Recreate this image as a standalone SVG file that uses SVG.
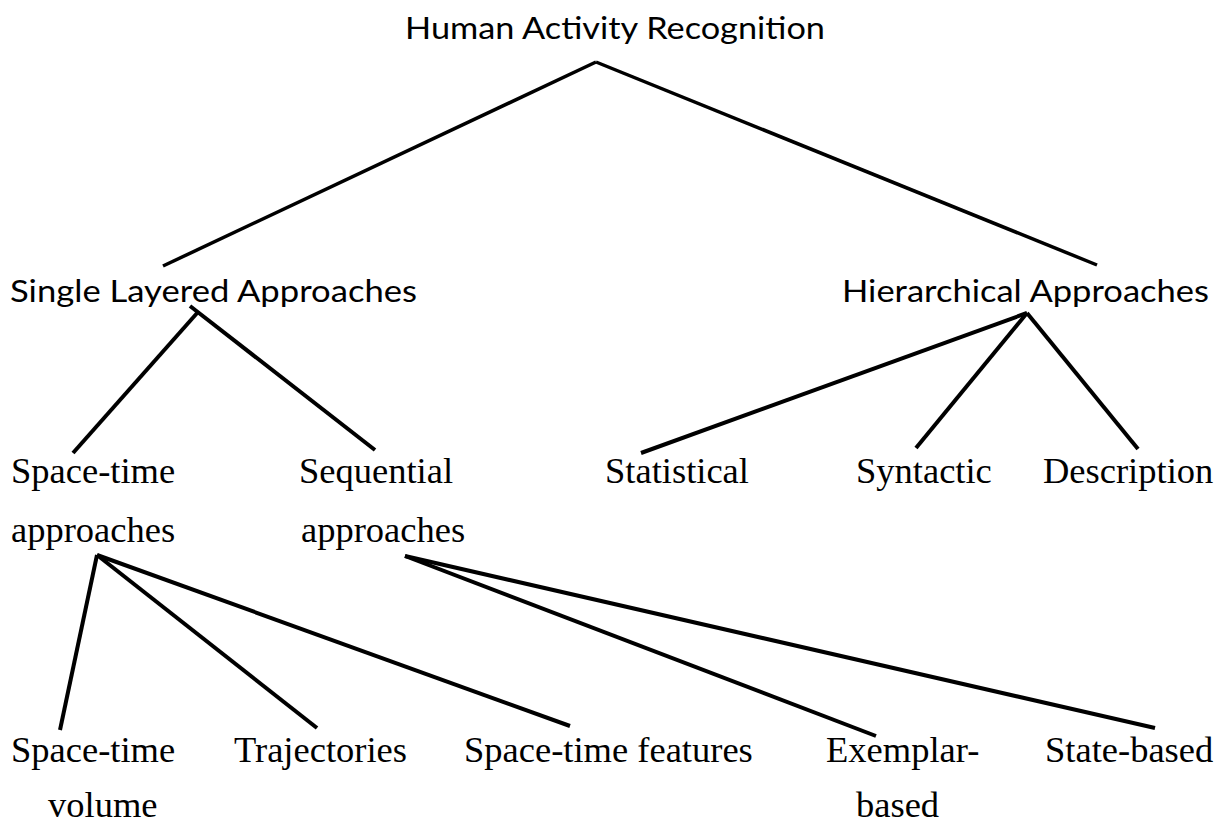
<svg xmlns="http://www.w3.org/2000/svg" width="1225" height="825" viewBox="0 0 1225 825">
  <style>
    .sans { font-family: "Lato", "Liberation Sans", sans-serif; font-size: 31px; fill: #000; }
    .serif { font-family: "Liberation Serif", "Times New Roman", serif; font-size: 36.5px; fill: #000; }
    .edge { stroke: #000; stroke-width: 4; stroke-linecap: butt; fill: none; }
    .edge.thin { stroke-width: 3.5; }
  </style>
  <rect width="1225" height="825" fill="#fff"/>

  <!-- connectors -->
  <g id="connectors">
    <line class="edge thin" x1="596" y1="62" x2="163" y2="266"/>
    <line class="edge thin" x1="596" y1="62" x2="1097" y2="265"/>
    <line class="edge" x1="198" y1="312" x2="73" y2="453"/>
    <line class="edge" x1="190" y1="306" x2="375" y2="450"/>
    <line class="edge" x1="1027" y1="313" x2="641" y2="453"/>
    <line class="edge" x1="1027" y1="313" x2="916" y2="448"/>
    <line class="edge" x1="1027" y1="313" x2="1138" y2="449"/>
    <line class="edge" x1="97" y1="555" x2="60" y2="730"/>
    <line class="edge" x1="97" y1="555" x2="317" y2="728"/>
    <line class="edge" x1="97" y1="555" x2="570" y2="726"/>
    <line class="edge" x1="405" y1="556" x2="876" y2="736"/>
    <line class="edge" x1="405" y1="556" x2="1155" y2="728"/>
  </g>

  <!-- nodes -->
  <g id="root">
    <text class="sans" x="405" y="39" textLength="420" lengthAdjust="spacingAndGlyphs">Human Activity Recognition</text>
  </g>
  <g id="single-layered">
    <text class="sans" x="10" y="302" textLength="407" lengthAdjust="spacingAndGlyphs">Single Layered Approaches</text>
  </g>
  <g id="hierarchical">
    <text class="sans" x="842" y="302" textLength="367" lengthAdjust="spacingAndGlyphs">Hierarchical Approaches</text>
  </g>
  <g id="space-time-approaches">
    <text class="serif" x="11" y="483">Space-time</text>
    <text class="serif" x="11" y="542">approaches</text>
  </g>
  <g id="sequential-approaches">
    <text class="serif" x="299" y="483">Sequential</text>
    <text class="serif" x="301" y="542">approaches</text>
  </g>
  <g id="statistical">
    <text class="serif" x="605" y="483">Statistical</text>
  </g>
  <g id="syntactic">
    <text class="serif" x="856" y="483">Syntactic</text>
  </g>
  <g id="description">
    <text class="serif" x="1043" y="483">Description</text>
  </g>
  <g id="space-time-volume">
    <text class="serif" x="11" y="762">Space-time</text>
    <text class="serif" x="48" y="817">volume</text>
  </g>
  <g id="trajectories">
    <text class="serif" x="234" y="762">Trajectories</text>
  </g>
  <g id="space-time-features">
    <text class="serif" x="464" y="762">Space-time features</text>
  </g>
  <g id="exemplar-based">
    <text class="serif" x="826" y="762">Exemplar-</text>
    <text class="serif" x="856" y="817">based</text>
  </g>
  <g id="state-based">
    <text class="serif" x="1045" y="762">State-based</text>
  </g>
</svg>
